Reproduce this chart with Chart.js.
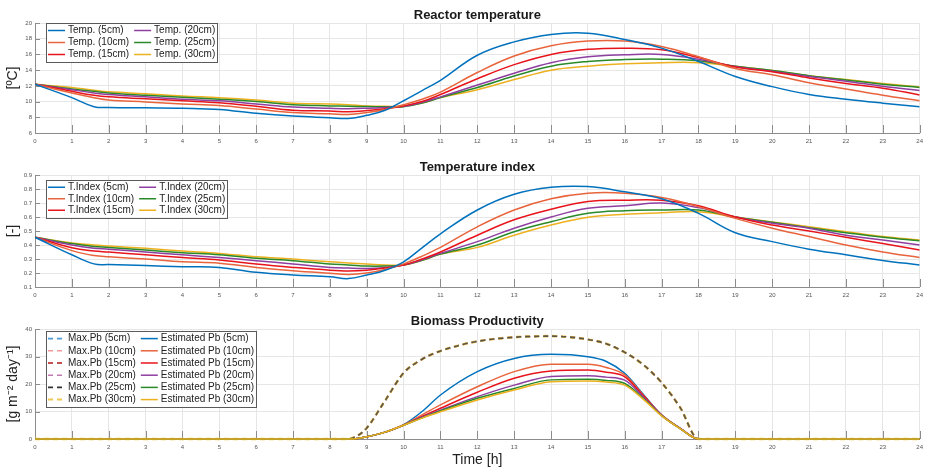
<!DOCTYPE html>
<html>
<head>
<meta charset="utf-8">
<title>Reactor temperature and productivity</title>
<script src="https://cdn.jsdelivr.net/npm/chart.js@4.4.1/dist/chart.umd.min.js"></script>
<style>
  html, body { margin: 0; padding: 0; background: #fff; }
  #wrap { position: relative; width: 928px; height: 469px; }
  .panel { position: absolute; left: 0; width: 928px; }
</style>
</head>
<body>
<div id="wrap">
  <div class="panel" style="top:0;height:150px"><canvas id="tempChart"></canvas></div>
  <div class="panel" style="top:150px;height:150px"><canvas id="indexChart"></canvas></div>
  <div class="panel" style="top:300px;height:169px"><canvas id="pbChart"></canvas></div>
</div>
<script>
// Time of day [h]
const hours = [0, 1, 1.6, 2, 3, 4, 5, 6, 7, 8, 8.5, 9, 9.5, 10, 10.5, 11, 12, 13, 14, 15, 16, 17, 18, 19, 20, 21, 22, 23, 24];
const depths = ['5cm', '10cm', '15cm', '20cm', '25cm', '30cm'];

// Reactor temperature [ºC]
const temp5  = [12.2, 10.5, 9.35, 9.25, 9.2, 9.15, 9.0, 8.5, 8.15, 7.95, 7.85, 8.25, 8.9, 10.1, 11.4, 12.7, 15.9, 17.6, 18.55, 18.7, 17.9, 16.8, 15.1, 13.2, 11.9, 10.9, 10.3, 9.8, 9.35];
const temp10 = [12.2, 11.1, 10.5, 10.2, 9.95, 9.7, 9.5, 9.05, 8.6, 8.45, 8.35, 8.6, 9.0, 9.6, 10.3, 11.2, 13.7, 15.8, 17.1, 17.7, 17.7, 17.0, 15.7, 14.2, 13.4, 12.4, 11.6, 10.8, 10.1];
const temp15 = [12.2, 11.3, 10.8, 10.6, 10.35, 10.1, 9.85, 9.4, 8.9, 8.8, 8.7, 8.85, 9.1, 9.45, 10.0, 10.9, 12.9, 14.7, 16.0, 16.65, 16.8, 16.6, 15.6, 14.4, 13.8, 13.0, 12.3, 11.7, 10.85];
const temp20 = [12.2, 11.5, 11.1, 10.9, 10.6, 10.3, 10.1, 9.7, 9.3, 9.15, 9.1, 9.15, 9.25, 9.4, 9.9, 10.6, 12.1, 13.6, 14.95, 15.7, 15.95, 16.0, 15.4, 14.45, 13.85, 13.2, 12.6, 11.95, 11.4];
const temp25 = [12.2, 11.6, 11.3, 11.1, 10.8, 10.55, 10.3, 10.0, 9.6, 9.45, 9.4, 9.36, 9.35, 9.35, 9.8, 10.5, 11.8, 13.25, 14.5, 15.1, 15.35, 15.4, 15.2, 14.5, 13.95, 13.3, 12.75, 12.2, 11.8];
const temp30 = [12.2, 11.8, 11.45, 11.25, 11.0, 10.7, 10.5, 10.2, 9.8, 9.7, 9.6, 9.45, 9.4, 9.4, 9.8, 10.5, 11.5, 12.8, 14.0, 14.5, 14.8, 14.95, 14.95, 14.5, 13.95, 13.3, 12.8, 12.3, 11.85];

// Temperature index [-]
const idx5  = [0.455, 0.33, 0.265, 0.26, 0.253, 0.245, 0.24, 0.205, 0.186, 0.174, 0.16, 0.186, 0.22, 0.28, 0.38, 0.48, 0.65, 0.762, 0.812, 0.817, 0.78, 0.73, 0.626, 0.488, 0.424, 0.37, 0.33, 0.29, 0.257];
const idx10 = [0.455, 0.36, 0.325, 0.316, 0.30, 0.28, 0.27, 0.24, 0.216, 0.198, 0.19, 0.20, 0.225, 0.265, 0.32, 0.383, 0.53, 0.65, 0.73, 0.77, 0.77, 0.74, 0.674, 0.59, 0.52, 0.46, 0.40, 0.35, 0.31];
const idx15 = [0.455, 0.38, 0.357, 0.35, 0.33, 0.31, 0.293, 0.264, 0.24, 0.22, 0.215, 0.22, 0.235, 0.257, 0.30, 0.35, 0.47, 0.58, 0.655, 0.71, 0.72, 0.72, 0.68, 0.60, 0.543, 0.50, 0.455, 0.41, 0.364];
const idx20 = [0.455, 0.40, 0.377, 0.37, 0.35, 0.33, 0.31, 0.288, 0.264, 0.24, 0.235, 0.233, 0.24, 0.257, 0.295, 0.34, 0.424, 0.52, 0.60, 0.662, 0.68, 0.70, 0.667, 0.60, 0.555, 0.52, 0.47, 0.436, 0.40];
const idx25 = [0.455, 0.41, 0.39, 0.383, 0.364, 0.345, 0.33, 0.305, 0.288, 0.264, 0.258, 0.25, 0.25, 0.257, 0.29, 0.335, 0.40, 0.495, 0.566, 0.626, 0.645, 0.65, 0.65, 0.60, 0.562, 0.524, 0.488, 0.455, 0.43];
const idx30 = [0.455, 0.415, 0.40, 0.393, 0.376, 0.357, 0.34, 0.316, 0.30, 0.28, 0.272, 0.264, 0.258, 0.257, 0.29, 0.335, 0.383, 0.47, 0.543, 0.598, 0.62, 0.63, 0.638, 0.60, 0.565, 0.53, 0.495, 0.46, 0.436];

// Biomass productivity [g m-2 day-1]
const pbHours = [0, 8.5, 8.75, 9, 9.5, 10, 10.5, 11, 12, 13, 14, 15, 15.5, 16, 16.5, 17, 17.5, 18, 24];
const maxPb = [0, 0, 1.2, 4, 14, 24, 29, 32, 35.5, 37, 37.4, 36.2, 34.6, 31.5, 27, 20.5, 11.5, 0, 0];
const est5  = [0, 0, 0.2, 0.8, 2.5, 5.2, 10, 16, 24.5, 29.3, 30.8, 29.9, 28.2, 23.9, 16.3, 8.7, 3.9, 0, 0];
const est10 = [0, 0, 0.2, 0.8, 2.5, 5.1, 8.8, 12.4, 19.0, 24.5, 27.2, 27.2, 26.0, 23.3, 16.0, 8.7, 3.9, 0, 0];
const est15 = [0, 0, 0.2, 0.8, 2.5, 5.1, 8.2, 11.2, 17.0, 22.1, 24.7, 25.1, 24.3, 22.6, 15.8, 8.7, 3.9, 0, 0];
const est20 = [0, 0, 0.2, 0.8, 2.5, 5.0, 7.9, 10.5, 15.4, 19.6, 22.7, 23.0, 22.5, 21.4, 15.3, 8.6, 3.9, 0, 0];
const est25 = [0, 0, 0.2, 0.8, 2.5, 5.0, 7.7, 10.2, 14.8, 18.4, 21.5, 21.7, 21.3, 20.2, 14.8, 8.5, 3.8, 0, 0];
const est30 = [0, 0, 0.2, 0.8, 2.5, 5.0, 7.6, 9.9, 14.2, 17.8, 20.8, 21.1, 20.7, 19.6, 14.5, 8.4, 3.8, 0, 0];

const colors = ['#0072bd', '#e8643c', '#e8141c', '#8e3fa0', '#2a8a2a', '#edb120'];
const maxColors = ['#4d9ad6', '#f29a9a', '#b01818', '#c27ab0', '#5a5448', '#f0c850'];

Chart.defaults.font.family = '"Liberation Sans", Arial, Helvetica, sans-serif';
Chart.defaults.color = '#555';

function series(xs, ys) {
    return xs.map((x, i) => ({ x: x, y: ys[i] }));
}

// Inward tick marks, axes title and boxed legend
const mlDecor = {
    id: 'mlDecor',
    beforeDatasetsDraw(chart) {
        const { ctx, chartArea: a, scales } = chart;
        ctx.save();
        ctx.strokeStyle = '#8c8c8c';
        ctx.lineWidth = 1;
        ctx.beginPath();
        scales.x.ticks.forEach(t => {
            const px = Math.round(scales.x.getPixelForValue(t.value)) + 0.5;
            ctx.moveTo(px, a.bottom);
            ctx.lineTo(px, a.bottom - 8);
        });
        scales.y.ticks.forEach(t => {
            const py = Math.round(scales.y.getPixelForValue(t.value)) + 0.5;
            ctx.moveTo(a.left, py);
            ctx.lineTo(a.left + 5, py);
        });
        ctx.stroke();
        ctx.restore();
    },
    afterDraw(chart, args, opts) {
        const { ctx, chartArea: a } = chart;
        ctx.save();
        ctx.font = 'bold 13px "Liberation Sans", Arial, sans-serif';
        ctx.fillStyle = '#1a1a1a';
        ctx.textAlign = 'center';
        ctx.textBaseline = 'middle';
        ctx.fillText(opts.title, (a.left + a.right) / 2, a.top - 8);

        // legend, filled column by column
        const sets = chart.data.datasets;
        const rows = opts.rows;
        const nCols = Math.ceil(sets.length / rows);
        ctx.font = '10px "Liberation Sans", Arial, sans-serif';
        const colW = [];
        for (let c = 0; c < nCols; c++) {
            let w = 0;
            sets.slice(c * rows, (c + 1) * rows).forEach(d => {
                w = Math.max(w, ctx.measureText(d.label).width);
            });
            colW.push(22 + w);
        }
        const x0 = a.left + 11;
        const y0 = a.top + opts.dy;
        const boxW = colW.reduce((s, w) => s + w, 0) + (nCols - 1) * 3 + 2;
        const boxH = rows * opts.rowH + 3;
        ctx.fillStyle = '#fff';
        ctx.fillRect(x0, y0, boxW, boxH);
        ctx.strokeStyle = '#5a5a5a';
        ctx.lineWidth = 1;
        ctx.strokeRect(Math.round(x0) + 0.5, Math.round(y0) + 0.5, Math.round(boxW), Math.round(boxH));

        let colX = x0;
        for (let c = 0; c < nCols; c++) {
            sets.slice(c * rows, (c + 1) * rows).forEach((d, r) => {
                const cy = y0 + 1.5 + opts.rowH * (r + 0.5);
                ctx.strokeStyle = d.legendColor || d.borderColor;
                ctx.lineWidth = Math.min(d.borderWidth || 1.5, 2);
                ctx.setLineDash(d.borderDash || []);
                ctx.beginPath();
                ctx.moveTo(colX + 2, cy);
                ctx.lineTo(colX + 19, cy);
                ctx.stroke();
                ctx.setLineDash([]);
                ctx.fillStyle = '#222';
                ctx.textAlign = 'left';
                ctx.fillText(d.label, colX + 22, cy);
            });
            colX += colW[c] + 3;
        }
        ctx.restore();
    }
};

function makeChart(id, datasets, cfg) {
    return new Chart(document.getElementById(id), {
        type: 'line',
        data: { datasets: datasets },
        options: {
            animation: false,
            responsive: true,
            maintainAspectRatio: false,
            devicePixelRatio: 1,
            layout: { padding: { top: cfg.top, right: 6, left: 0, bottom: 0 } },
            elements: {
                point: { radius: 0 },
                line: cfg.monotone
                    ? { borderWidth: 1.5, cubicInterpolationMode: 'monotone' }
                    : { borderWidth: 1.5, tension: 0.4 }
            },
            plugins: {
                legend: { display: false },
                tooltip: { enabled: false },
                mlDecor: { title: cfg.title, rows: cfg.rows, rowH: cfg.rowH, dy: cfg.dy }
            },
            scales: {
                x: {
                    type: 'linear',
                    min: 0,
                    max: 24,
                    afterFit: s => { s.height = cfg.xHeight; },
                    grid: { color: '#e6e6e6', drawTicks: false },
                    border: { color: '#8c8c8c' },
                    ticks: { stepSize: 1, autoSkip: false, maxRotation: 0, padding: 5, font: { size: 6 }, color: '#555' },
                    title: {
                        display: !!cfg.xTitle,
                        text: cfg.xTitle || '',
                        font: { size: 14 },
                        color: '#222',
                        padding: 0
                    }
                },
                y: {
                    type: 'linear',
                    min: cfg.yMin,
                    max: cfg.yMax,
                    afterFit: s => { s.width = 35; },
                    grid: { color: '#e6e6e6', drawTicks: false },
                    border: { color: '#8c8c8c' },
                    ticks: { stepSize: cfg.yStep, padding: 3, font: { size: 6 }, color: '#555', callback: cfg.fmt },
                    title: {
                        display: true,
                        text: cfg.yTitle,
                        font: { size: 14 },
                        color: '#222',
                        padding: { top: 5, bottom: 0 }
                    }
                }
            }
        },
        plugins: [mlDecor]
    });
}

// Reactor temperature
const tempSeries = [temp5, temp10, temp15, temp20, temp25, temp30];
makeChart('tempChart', tempSeries.map((vals, i) => ({
    label: 'Temp. (' + depths[i] + ')',
    data: series(hours, vals),
    borderColor: colors[i]
})), {
    title: 'Reactor temperature', top: 23, xHeight: 17,
    yMin: 6, yMax: 20, yStep: 2, yTitle: '[ºC]', fmt: v => v,
    rows: 3, rowH: 12, dy: 0
});

// Temperature index
const idxSeries = [idx5, idx10, idx15, idx20, idx25, idx30];
makeChart('indexChart', idxSeries.map((vals, i) => ({
    label: 'T.Index (' + depths[i] + ')',
    data: series(hours, vals),
    borderColor: colors[i]
})), {
    title: 'Temperature index', top: 25, xHeight: 13,
    yMin: 0.1, yMax: 0.9, yStep: 0.1, yTitle: '[-]', fmt: v => v.toFixed(1),
    rows: 3, rowH: 11.5, dy: 5
});

// Biomass productivity: dashed maximum, solid estimate
const estSeries = [est5, est10, est15, est20, est25, est30];
const maxOrder = [8, 9, 10, 11, 6, 7];
const pbSets = depths.map((d, i) => ({
    label: 'Max.Pb (' + d + ')',
    data: series(pbHours, maxPb),
    borderColor: maxColors[i],
    legendColor: i === 4 ? '#333' : maxColors[i],
    borderDash: [5, 4],
    borderWidth: i === 5 ? 2.6 : 1.6,
    order: maxOrder[i],
    clip: 3
})).concat(estSeries.map((vals, i) => ({
    label: 'Estimated Pb (' + depths[i] + ')',
    data: series(pbHours, vals),
    borderColor: colors[i],
    order: 5 - i,
    clip: 3
})));
makeChart('pbChart', pbSets, {
    title: 'Biomass Productivity', top: 29, xHeight: 30, xTitle: 'Time [h]',
    yMin: 0, yMax: 40, yStep: 10, yTitle: '[g m⁻² day⁻¹]', fmt: v => v,
    rows: 6, rowH: 12.2, dy: 2, monotone: true
});
</script>
</body>
</html>
